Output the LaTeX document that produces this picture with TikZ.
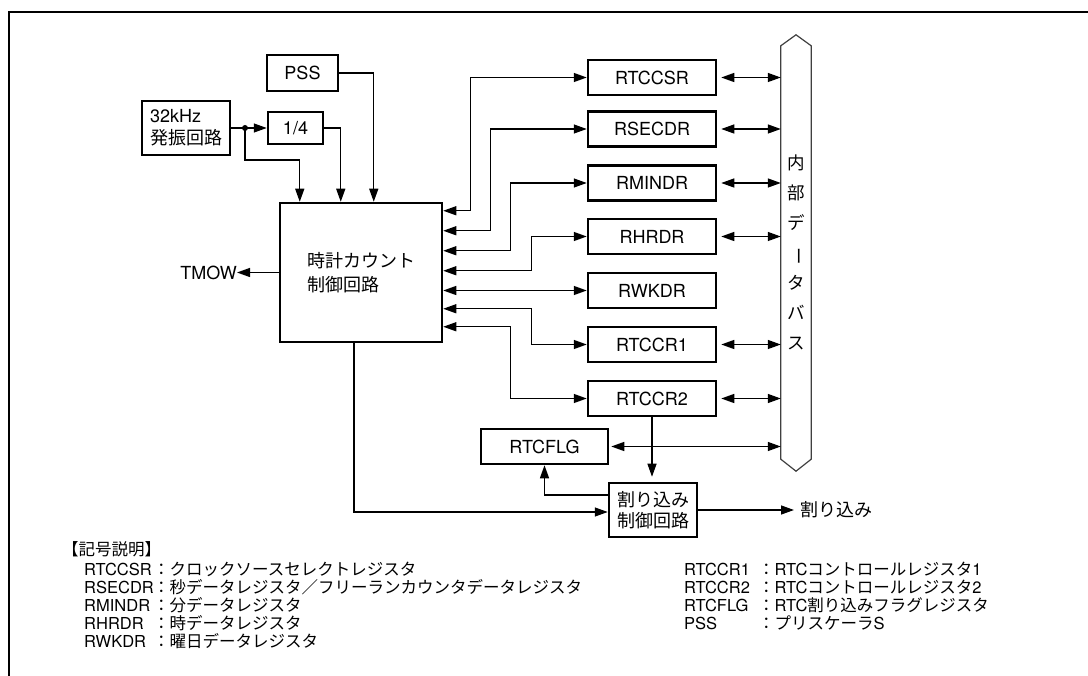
\documentclass[tikz,border=0pt]{standalone}
\usepackage{fontspec}
\usepackage{graphicx}
\setmainfont{TeX Gyre Heros}
\newfontfamily\jpfont{Noto Sans CJK JP}
\newcommand{\jp}[1]{{\jpfont #1}}
\usetikzlibrary{arrows.meta}
\tikzset{
  blk/.style={draw, line width=2.5pt, inner sep=0pt, font=\fontsize{18}{22}\selectfont},
  reg/.style={blk, minimum width=128pt, minimum height=35pt},
  arr/.style={line width=1.3pt, -{Triangle[length=13pt,width=9pt]}},
  dbl/.style={line width=1.3pt, {Triangle[length=13pt,width=9pt]}-{Triangle[length=13pt,width=9pt]}},
  lbl/.style={anchor=base west, inner sep=0pt, font=\fontsize{16.5}{20}\selectfont},
}
\begin{document}
\begin{tikzpicture}[x=1pt,y=-1pt]
    \useasboundingbox (0,0) rectangle (1088,676);
    % 枠
    \draw[line width=2.5pt] (9,676) -- (9,12) -- (1088,12);

    % 入力側
    \node[blk, minimum width=71pt, minimum height=36pt] (pss) at (302.5,73) {PSS};
    \node[blk, minimum width=88pt, minimum height=54pt, align=left] (osc) at (186,128) {32kHz\\\jp{発振回路}};
    \node[blk, minimum width=55pt, minimum height=32pt] (div) at (295.5,128) {1/4};
    \coordinate (tap) at (245,128);

    % 時計カウント制御回路
    \node[blk, minimum width=162pt, minimum height=139pt, align=left,
          font=\fontsize{18}{24}\selectfont\jpfont] (cnt) at (361,272.5) {時計カウント\\制御回路};
    \node[anchor=east, inner sep=0pt, font=\fontsize{18}{22}\selectfont] (tmow) at (237,272.5) {TMOW};

    % レジスタ
    \node[reg] (csr) at (652,77.5) {RTCCSR};
    \node[reg] (sec) at (652,129) {RSECDR};
    \node[reg] (min) at (652,183) {RMINDR};
    \node[reg] (hr) at (652,236.5) {RHRDR};
    \node[reg] (wk) at (652,290.5) {RWKDR};
    \node[reg] (cr1) at (652,344.5) {RTCCR1};
    \node[reg] (cr2) at (652,398.5) {RTCCR2};
    \node[reg, minimum width=127pt] (flg) at (544.5,446.5) {RTCFLG};

    % 割り込み制御回路
    \node[blk, minimum width=88pt, minimum height=54pt, align=left,
          font=\fontsize{18}{21}\selectfont\jpfont] (irq) at (653,510) {割り込み\\制御回路};
    \node[anchor=west, inner sep=6pt, font=\fontsize{18}{22}\selectfont\jpfont] (irqout) at (794,510) {割り込み};

    % 内部データバス
    \node[minimum width=30pt, minimum height=413pt, inner sep=0pt, align=center,
          font=\fontsize{17.5}{30}\selectfont\jpfont] (bus) at (796,252.5)
          {内\\部\\デ\\\rotatebox[origin=c]{-90}{ー}\\タ\\バ\\ス};
    \draw[line width=1.2pt, black!75] (bus.north west) -- ([yshift=11pt]bus.north) -- (bus.north east)
        -- (bus.south east) -- ([yshift=-12pt]bus.south) -- (bus.south west) -- cycle;

    % クロック入力
    \draw[arr] (osc.east) -- (div.west);
    \fill (tap) circle (3pt);
    \draw[arr] (tap) -- ++(0,32) -| ([xshift=21pt]cnt.north west);
    \draw[arr] (div.east) -| ([xshift=62pt]cnt.north west);
    \draw[arr] (pss.east) -| ([xshift=95pt]cnt.north west);
    \draw[arr] (cnt.west) -- (tmow.east);

    % 制御回路とレジスタ
    \draw[dbl] ([yshift=-9pt]cnt.north east) -| ([xshift=-116pt]csr.west) -- (csr.west);
    \draw[dbl] ([yshift=-29pt]cnt.north east) -| ([xshift=-96pt]sec.west) -- (sec.west);
    \draw[dbl] ([yshift=-49pt]cnt.north east) -| ([xshift=-76pt]min.west) -- (min.west);
    \draw[dbl] ([yshift=-69pt]cnt.north east) -| ([xshift=-55pt]hr.west) -- (hr.west);
    \draw[dbl] (wk.west -| cnt.east) -- (wk.west);
    \draw[dbl] ([yshift=-107pt]cnt.north east) -| ([xshift=-55pt]cr1.west) -- (cr1.west);
    \draw[dbl] ([yshift=-125pt]cnt.north east) -| ([xshift=-76pt]cr2.west) -- (cr2.west);

    % レジスタとバス
    \draw[dbl, shorten <=4pt] (csr.east) -- (csr.east -| bus.west);
    \draw[dbl, shorten <=4pt] (sec.east) -- (sec.east -| bus.west);
    \draw[dbl, shorten <=4pt] (min.east) -- (min.east -| bus.west);
    \draw[dbl, shorten <=4pt] (hr.east) -- (hr.east -| bus.west);
    \draw[dbl, shorten <=4pt] (cr1.east) -- (cr1.east -| bus.west);
    \draw[dbl, shorten <=4pt] (cr2.east) -- (cr2.east -| bus.west);
    \draw[dbl, shorten <=2pt] (flg.east) -- (flg.east -| bus.west);

    % 割り込み
    \draw[arr, shorten >=5pt] (cr2.south) -- (cr2.south |- irq.north);
    \draw[arr] ([yshift=15pt]irq.west) -| (flg.south);
    \draw[arr] ([xshift=-7pt]cnt.south) |- ([yshift=-2pt]irq.west);
    \draw[arr] (irq.east) -- (irqout.west);

    % 記号説明
    \node[lbl, font=\fontsize{16.5}{20}\selectfont\jpfont] (khead) at (62,555) {【記号説明】};
    \node[lbl] (kcsr) at (84,575) {RTCCSR};
    \node[lbl] (dcsr) at (153,575) {\jp{：クロックソースセレクトレジスタ}};
    \node[lbl] (ksec) at (84,593) {RSECDR};
    \node[lbl] (dsec) at (153,593) {\jp{：秒データレジスタ／フリーランカウンタデータレジスタ}};
    \node[lbl] (kmin) at (84,611) {RMINDR};
    \node[lbl] (dmin) at (153,611) {\jp{：分データレジスタ}};
    \node[lbl] (khr) at (84,629) {RHRDR};
    \node[lbl] (dhr) at (153,629) {\jp{：時データレジスタ}};
    \node[lbl] (kwk) at (84,647) {RWKDR};
    \node[lbl] (dwk) at (153,647) {\jp{：曜日データレジスタ}};
    \node[lbl] (kcr1) at (684,575) {RTCCR1};
    \node[lbl] (dcr1) at (758,575) {\jp{：}RTC\jp{コントロールレジスタ}1};
    \node[lbl] (kcr2) at (684,593) {RTCCR2};
    \node[lbl] (dcr2) at (758,593) {\jp{：}RTC\jp{コントロールレジスタ}2};
    \node[lbl] (kflg) at (684,611) {RTCFLG};
    \node[lbl] (dflg) at (758,611) {\jp{：}RTC\jp{割り込みフラグレジスタ}};
    \node[lbl] (kpss) at (684,629) {PSS};
    \node[lbl] (dpss) at (758,629) {\jp{：プリスケーラ}S};
\end{tikzpicture}
\end{document}
